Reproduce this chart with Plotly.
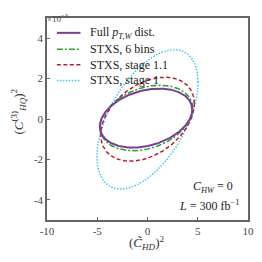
import numpy as np
import plotly.graph_objects as go

# Ellipse contour parameters (x in units, y in units of 1e-3)
names = ["Full <i>p</i><sub><i>T,W</i></sub> dist.", "STXS, 6 bins", "STXS, stage 1.1", "STXS, stage 1"]
center_x = [-0.15, -0.10, 0.00, 0.00]
center_y = [0.045, 0.05, -0.01, -0.02]
half_x = [4.60, 4.60, 4.66, 5.03]
half_y = [1.40, 1.55, 1.93, 2.92]
shear_y = [0.42, 0.475, 0.77, 1.84]
colors = ["#7b3f98", "#2ca02c", "#b5202e", "#3cc8f5"]
dashes = ["solid", "6px,2px,2px,2px", "4px,2.5px", "1.5px,1.5px"]
widths = [2.0, 1.5, 1.5, 1.5]

x_ticks = [-10, -5, 0, 5, 10]
y_ticks = [-4, -2, 0, 2, 4]

FONT = "Liberation Serif"
t = np.linspace(0, 2 * np.pi, 400)

fig = go.Figure()
order = [3, 2, 1, 0]
for i in order:
    x = center_x[i] + half_x[i] * np.cos(t)
    y = center_y[i] + half_y[i] * np.sin(t) + shear_y[i] * np.cos(t)
    fig.add_trace(go.Scatter(x=x, y=y, mode="lines", name=names[i], showlegend=False,
                             line=dict(color=colors[i], width=widths[i], dash=dashes[i])))

# page body has an 8px margin; plot area on screen spans x 47..251, y 16..220
W, H = 254, 246
L, R, T, B = 39, 11, 8, 34
X0, X1, Y0, Y1 = 47, 251, 16, 220

def px(xp):
    return (xp - X0) / (X1 - X0)

def py(yp):
    return (Y1 - yp) / (Y1 - Y0)

shapes = []
annotations = []
rows = [31, 47.5, 63.3, 79]
for i, yrow in enumerate(rows):
    shapes.append(dict(type="line", xref="paper", yref="paper", x0=px(57), x1=px(81), y0=py(yrow), y1=py(yrow),
                       line=dict(color=colors[i], width=widths[i], dash=dashes[i])))
    annotations.append(dict(xref="paper", yref="paper", x=px(89), y=py(yrow), text=names[i], showarrow=False,
                            xanchor="left", yanchor="middle", font=dict(family=FONT, size=12, color="#222")))

annotations += [
    dict(xref="paper", yref="paper", x=px(238), y=py(187), text="<i>C</i><sub><i>HW</i></sub> = 0",
         showarrow=False, xanchor="right", yanchor="middle", font=dict(family=FONT, size=12, color="#222")),
    dict(xref="paper", yref="paper", x=px(244), y=py(205), text="<i>L</i> = 300 fb<sup>−1</sup>",
         showarrow=False, xanchor="right", yanchor="middle", font=dict(family=FONT, size=12, color="#222")),
    dict(xref="paper", yref="paper", x=px(46), y=py(8.5), text="×10<sup>−3</sup>",
         showarrow=False, xanchor="left", yanchor="top", borderpad=0, font=dict(family=FONT, size=9, color="#444")),
    dict(xref="paper", yref="paper", x=px(148), y=py(243), text="(<i>C\u0303</i><sub><i>HD</i></sub>)<sup>2</sup>",
         showarrow=False, xanchor="center", yanchor="middle", font=dict(family=FONT, size=13, color="#333")),
    dict(xref="paper", yref="paper", x=px(18), y=py(110), text="(<i>C</i><sup>(3)</sup><sub><i>HQ</i></sub>)<sup>2</sup>",
         showarrow=False, xanchor="center", yanchor="middle", textangle=-90, font=dict(family=FONT, size=13, color="#333")),
]

fig.update_layout(
    width=W, height=H, margin=dict(l=L, r=R, t=T, b=B),
    paper_bgcolor="white", plot_bgcolor="white",
    shapes=shapes, annotations=annotations, showlegend=False,
    font=dict(family=FONT, size=11, color="#444"),
)
fig.update_xaxes(range=[-10, 10], tickvals=x_ticks, ticktext=[str(v) for v in x_ticks],
                 showgrid=False, zeroline=False, showline=True, linecolor="#666", linewidth=1.5, mirror=True,
                 ticks="inside", ticklen=3, tickcolor="#666", tickfont=dict(family=FONT, size=11, color="#444"))
fig.update_yaxes(range=[-5, 5], tickvals=y_ticks, ticktext=[str(v) for v in y_ticks],
                 showgrid=False, zeroline=False, showline=True, linecolor="#666", linewidth=1.5, mirror=True,
                 ticks="inside", ticklen=3, tickcolor="#666", tickfont=dict(family=FONT, size=11, color="#444"))

fig.write_html("out.html")
